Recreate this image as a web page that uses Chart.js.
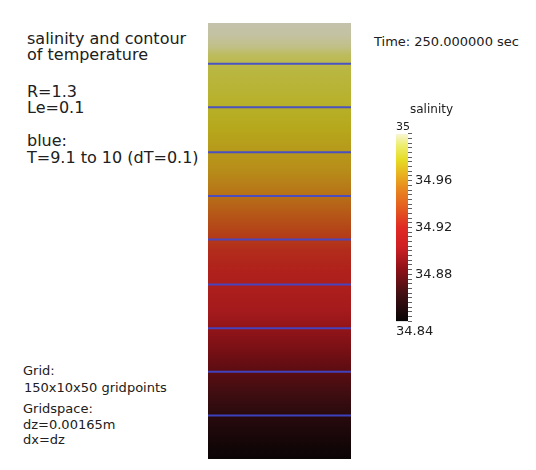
<!DOCTYPE html>
<html>
<head>
<meta charset="utf-8">
<script src="https://cdn.jsdelivr.net/npm/chart.js@4"></script>
<style>
  html, body { margin: 0; padding: 0; background: #fff; }
  #stage { position: relative; width: 536px; height: 470px; overflow: hidden; background: #fff;
           font-family: "DejaVu Sans", sans-serif; color: #202020; }
  .t { position: absolute; white-space: nowrap; line-height: 1; }
  canvas { position: absolute; }
</style>
</head>
<body>
<div id="stage">
  <canvas id="column" width="143" height="436" style="left:208px;top:23px"></canvas>
  <canvas id="contours" width="143" height="436" style="left:208px;top:23px"></canvas>
  <canvas id="scalebar" width="62" height="209" style="left:396px;top:123px"></canvas>

  <div class="t" style="left:27px;top:31px;font-size:16px">salinity and contour</div>
  <div class="t" style="left:27px;top:47px;font-size:16px">of temperature</div>
  <div class="t" style="left:27px;top:84px;font-size:16px">R=1.3</div>
  <div class="t" style="left:27px;top:100px;font-size:16px">Le=0.1</div>
  <div class="t" style="left:27px;top:133px;font-size:16px">blue:</div>
  <div class="t" style="left:27px;top:150px;font-size:16px">T=9.1 to 10 (dT=0.1)</div>

  <div class="t" style="left:23px;top:364px;font-size:13px">Grid:</div>
  <div class="t" style="left:24px;top:381px;font-size:13px">150x10x50 gridpoints</div>
  <div class="t" style="left:23px;top:402px;font-size:13px">Gridspace:</div>
  <div class="t" style="left:23px;top:418px;font-size:13px">dz=0.00165m</div>
  <div class="t" style="left:23px;top:433px;font-size:13px">dx=dz</div>

  <div class="t" style="left:374px;top:35px;font-size:13px">Time: 250.000000 sec</div>
  <div class="t" style="left:410px;top:103px;font-size:12px">salinity</div>
  <div class="t" id="smax" style="left:396px;top:121px;font-size:11px"></div>
  <div class="t" id="smin" style="left:396px;top:324px;font-size:13px"></div>
</div>

<script>
// Vertical grid index of each salinity sample (0 = bottom, 150 = top of the tank)
const depthLevels = [150, 146, 142, 139, 135, 128, 121, 113, 106, 99, 92, 86, 79, 72, 65, 58, 51, 45, 38, 31, 24, 17, 10, 4, 0];
// Salinity along the column at those levels
const salinity = [35.000, 34.999, 34.996, 34.991, 34.986, 34.983, 34.980, 34.975, 34.970, 34.965, 34.957,
                  34.947, 34.935, 34.925, 34.919, 34.913, 34.905, 34.897, 34.888, 34.878, 34.869, 34.860,
                  34.852, 34.846, 34.843];
// Temperature contours (blue lines) and the grid level where each one lies
const contourTemps  = [9.1, 9.2, 9.3, 9.4, 9.5, 9.6, 9.7, 9.8, 9.9];
const contourDepths = [15, 30, 45, 60, 75.5, 90.5, 105.5, 121, 136];
// Colour-bar range and labelled ticks
const salinityRange = [34.84, 35];
const salinityTicks = [34.84, 34.88, 34.92, 34.96, 35];
const minorTickStep = 0.004;

const gridWidth = 50;   // horizontal extent of the slice, gridpoints
const gridHeight = 150; // vertical extent of the slice, gridpoints

// Black-body style colour map, t in [0,1]
const cmapStops = [
  [0.00, [8, 5, 5]],
  [0.15, [68, 16, 20]],
  [0.27, [138, 16, 24]],
  [0.40, [208, 32, 36]],
  [0.50, [224, 42, 36]],
  [0.60, [228, 90, 30]],
  [0.70, [232, 132, 30]],
  [0.78, [232, 176, 32]],
  [0.86, [230, 220, 36]],
  [0.94, [238, 238, 112]],
  [1.00, [248, 246, 216]]
];
function colormap(s, shade) {
  const t = Math.min(1, Math.max(0, (s - salinityRange[0]) / (salinityRange[1] - salinityRange[0])));
  let i = 0;
  while (i < cmapStops.length - 2 && t > cmapStops[i + 1][0]) i++;
  const [t0, c0] = cmapStops[i], [t1, c1] = cmapStops[i + 1];
  const f = (t - t0) / (t1 - t0);
  const k = shade || 1;
  const c = c0.map((v, j) => Math.round((v + (c1[j] - v) * f) * k));
  return `rgb(${c[0]},${c[1]},${c[2]})`;
}

// Lit surface of the slice is a little darker than the colour map itself
const surfaceShade = 0.79;

function columnFill(ctx) {
  const chart = ctx.chart;
  if (!chart.chartArea) return 'rgba(0,0,0,0)';
  const y = chart.scales.y;
  const top = y.getPixelForValue(y.max), bottom = y.getPixelForValue(y.min);
  const g = chart.ctx.createLinearGradient(0, top, 0, bottom);
  depthLevels.forEach((z, i) => {
    g.addColorStop((y.getPixelForValue(z) - top) / (bottom - top), colormap(salinity[i], surfaceShade));
  });
  return g;
}

function scaleBarFill(ctx) {
  const chart = ctx.chart;
  if (!chart.chartArea) return 'rgba(0,0,0,0)';
  const y = chart.scales.y;
  const top = y.getPixelForValue(y.max), bottom = y.getPixelForValue(y.min);
  const g = chart.ctx.createLinearGradient(0, top, 0, bottom);
  cmapStops.forEach(([t]) => {
    const s = salinityRange[0] + t * (salinityRange[1] - salinityRange[0]);
    g.addColorStop((y.getPixelForValue(s) - top) / (bottom - top), colormap(s));
  });
  return g;
}

const quiet = { legend: { display: false }, tooltip: { enabled: false } };

// Salinity slice: one full-height bar shaded by the salinity profile
new Chart(document.getElementById('column'), {
  type: 'bar',
  data: {
    labels: ['salinity'],
    datasets: [{
      data: [[0, gridHeight]],
      backgroundColor: columnFill,
      borderWidth: 0,
      barPercentage: 1,
      categoryPercentage: 1
    }]
  },
  options: {
    responsive: false,
    animation: false,
    layout: { padding: 0 },
    plugins: quiet,
    scales: {
      x: { display: false },
      y: { display: false, min: 0, max: gridHeight }
    }
  }
});

// Temperature contours across the slice
new Chart(document.getElementById('contours'), {
  type: 'scatter',
  data: {
    datasets: contourDepths.map((z, i) => ({
      label: 'T=' + contourTemps[i],
      data: [{ x: 0, y: z }, { x: gridWidth, y: z }],
      showLine: true,
      borderColor: 'rgba(62, 72, 210, 0.9)',
      borderWidth: 2,
      pointRadius: 0
    }))
  },
  options: {
    responsive: false,
    animation: false,
    layout: { padding: 0 },
    plugins: quiet,
    scales: {
      x: { display: false, min: 0, max: gridWidth },
      y: { display: false, min: 0, max: gridHeight }
    }
  }
});

// Colour bar with its salinity axis
const innerLabels = salinityTicks.slice(1, -1);
new Chart(document.getElementById('scalebar'), {
  type: 'bar',
  data: {
    labels: ['salinity'],
    datasets: [{
      data: [[salinityRange[0], salinityRange[1]]],
      backgroundColor: scaleBarFill,
      borderWidth: 0,
      barPercentage: 1,
      categoryPercentage: 1
    }]
  },
  options: {
    responsive: false,
    animation: false,
    layout: { padding: { top: 10, bottom: 10, left: 0, right: 0 } },
    plugins: quiet,
    scales: {
      x: { display: false },
      y: {
        position: 'right',
        min: salinityRange[0],
        max: salinityRange[1],
        afterFit(scale) { scale.width = 50; },
        afterBuildTicks(scale) {
          const n = Math.round((salinityRange[1] - salinityRange[0]) / minorTickStep);
          const ticks = [];
          for (let k = 0; k <= n; k++) ticks.push({ value: +(salinityRange[0] + k * minorTickStep).toFixed(4) });
          scale.ticks = ticks;
        },
        ticks: {
          autoSkip: false,
          padding: 3,
          color: '#202020',
          font: { family: 'DejaVu Sans', size: 13 },
          callback(v) {
            const hit = innerLabels.find(l => Math.abs(l - v) < 1e-6);
            return hit !== undefined ? String(hit) : '';
          }
        },
        grid: { drawOnChartArea: false, drawTicks: true, tickLength: 4, color: '#606060', lineWidth: 1 },
        border: { display: false }
      }
    }
  }
});

document.getElementById('smax').textContent = String(salinityTicks[salinityTicks.length - 1]);
document.getElementById('smin').textContent = String(salinityTicks[0]);
</script>
</body>
</html>
